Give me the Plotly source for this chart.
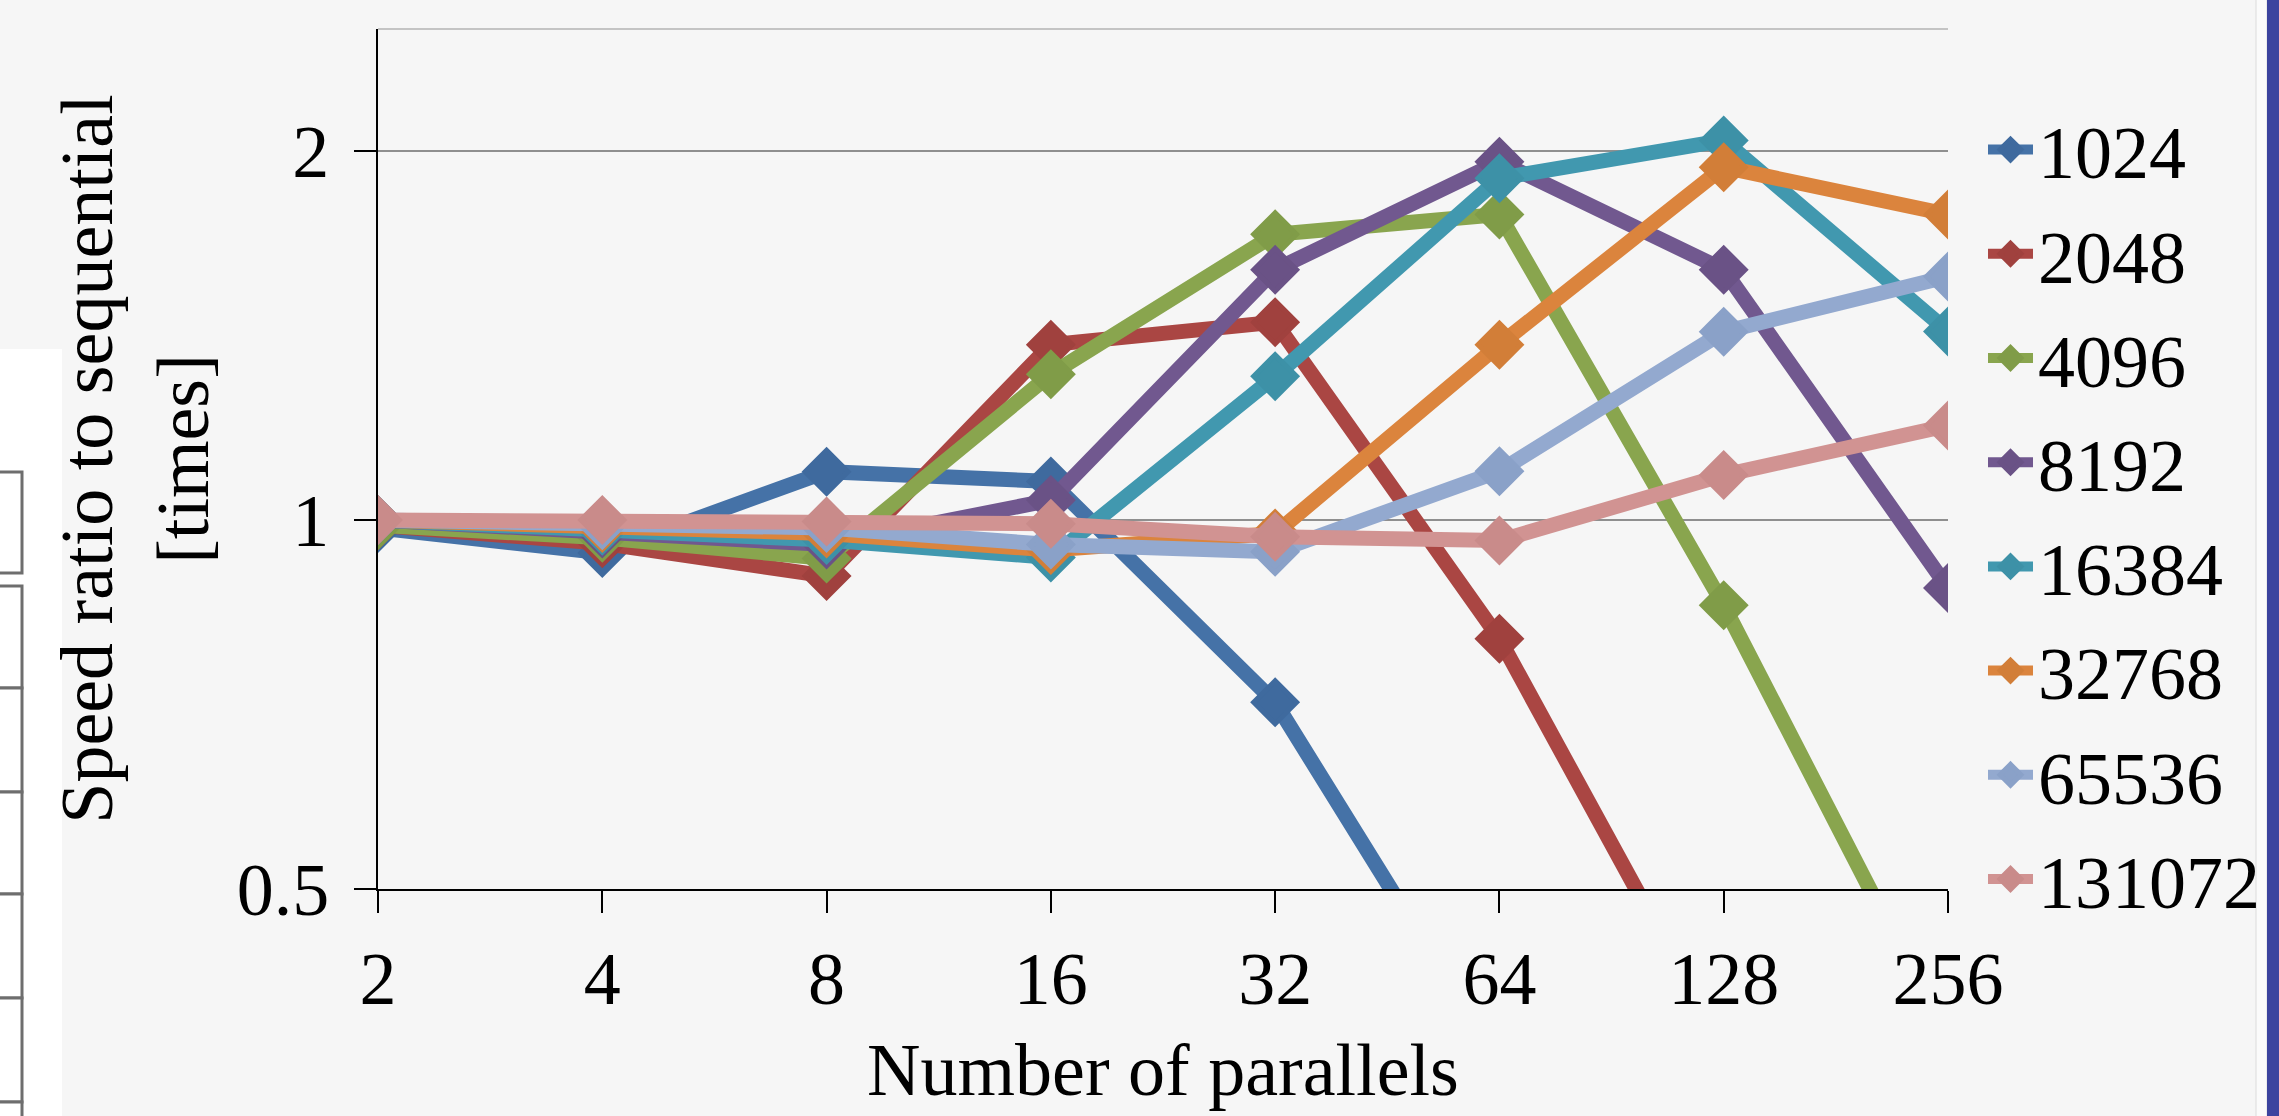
import plotly.graph_objects as go

# ---------------- data ----------------
parallels = ["2", "4", "8", "16", "32", "64", "128", "256"]
series_names = ["1024", "2048", "4096", "8192", "16384", "32768", "65536", "131072"]

s1024 = [0.985, 0.94, 1.095, 1.075, 0.71, 0.36, None, None]
s2048 = [0.99, 0.957, 0.90, 1.39, 1.45, 0.80, 0.37, None]
s4096 = [0.99, 0.967, 0.93, 1.315, 1.71, 1.775, 0.852, 0.376]
s8192 = [1.0, 0.975, 0.955, 1.038, 1.60, 1.96, 1.60, 0.88]
s16384 = [1.0, 0.98, 0.963, 0.932, 1.31, 1.90, 2.04, 1.425]
s32768 = [1.0, 0.985, 0.975, 0.945, 0.975, 1.39, 1.94, 1.775]
s65536 = [1.0, 0.99, 0.985, 0.955, 0.942, 1.096, 1.424, 1.58]
s131072 = [1.0, 1.0, 0.997, 0.993, 0.969, 0.962, 1.088, 1.194]

all_series = [s1024, s2048, s4096, s8192, s16384, s32768, s65536, s131072]

y_tickvals = [0.5, 1, 2]
y_ticktext = ["0.5", "1", "2"]

# ---------------- style ----------------
line_colors = ["#4572A7", "#AA4643", "#89A54E", "#71588F", "#4198AF", "#DB843D", "#93A9CF", "#D19392"]
marker_colors = ["#3F6A9E", "#A0413E", "#809C48", "#6A5286", "#3D91A7", "#D27E38", "#8AA1C8", "#C98B8A"]

W, H = 2279, 1116
ML, MR, MT, MB = 378, 331, 29, 227
PW, PH = W - ML - MR, H - MT - MB
BG = "#f6f6f6"
FONT = "Liberation Serif"
FS = 74


def px_x(p):
    return (p - ML) / PW


def px_y(p):
    return (H - MB - p) / PH


fig = go.Figure()
for name, vals, lc, mc in zip(series_names, all_series, line_colors, marker_colors):
    fig.add_trace(go.Scatter(
        x=parallels, y=vals, name=name, legendgroup=name,
        mode="lines+markers",
        line=dict(color=lc, width=15),
        marker=dict(symbol="diamond", size=33, color=mc, line=dict(color=mc, width=5)),
        connectgaps=False,
    ))

shapes = []
# top border of plot area (light gray)
shapes.append(dict(type="line", xref="paper", yref="paper", x0=0, x1=1, y0=1, y1=1,
                   line=dict(color="#c4c4c4", width=2), layer="below"))
# screenshot artefacts: white spreadsheet strip on the left with cell borders
shapes.append(dict(type="rect", xref="paper", yref="paper", x0=px_x(-5), x1=px_x(62),
                   y0=px_y(H + 5), y1=px_y(349), fillcolor="white", line=dict(width=0), layer="above"))
for top, bot in [(472, 573), (586, 688), (688, 792), (792, 894), (894, 998), (998, 1102), (1102, 1200)]:
    shapes.append(dict(type="rect", xref="paper", yref="paper", x0=px_x(-20), x1=px_x(22),
                       y0=px_y(bot), y1=px_y(top), fillcolor="white",
                       line=dict(color="#6e6e6e", width=3), layer="above"))
# right edge: light border and blue window bar
shapes.append(dict(type="rect", xref="paper", yref="paper", x0=px_x(2256), x1=px_x(2267),
                   y0=px_y(H + 5), y1=px_y(-5), fillcolor="#fbfbfb",
                   line=dict(color="#dcdcdc", width=1), layer="above"))
shapes.append(dict(type="rect", xref="paper", yref="paper", x0=px_x(2267), x1=px_x(W + 5),
                   y0=px_y(H + 5), y1=px_y(-5), fillcolor="#3c449f", line=dict(width=0), layer="above"))

fig.update_layout(
    width=W, height=H,
    margin=dict(l=ML, r=MR, t=MT, b=MB, autoexpand=False),
    paper_bgcolor=BG, plot_bgcolor=BG,
    font=dict(family=FONT, size=FS, color="black"),
    showlegend=True,
    legend=dict(
        x=px_x(1983), xanchor="left", y=px_y(95), yanchor="top",
        bgcolor="rgba(0,0,0,0)", borderwidth=0,
        font=dict(family=FONT, size=FS, color="black"),
        itemwidth=45, tracegroupgap=5,
    ),
    shapes=shapes,
)

fig.update_xaxes(
    type="category", range=[0, 7],
    showgrid=False, zeroline=False,
    showline=True, linecolor="black", linewidth=2,
    ticks="outside", ticklen=22, tickwidth=2, tickcolor="black",
    tickfont=dict(family=FONT, size=FS, color="black"),
    ticklabelstandoff=2,
    title=dict(text="Number of parallels", font=dict(family=FONT, size=FS, color="black"), standoff=24),
    automargin=False,
)

fig.update_yaxes(
    type="log", range=[-0.30103, 0.4005],
    tickvals=y_tickvals, ticktext=y_ticktext,
    showgrid=True, gridcolor="#8f8f8f", gridwidth=2,
    showline=True, linecolor="black", linewidth=2,
    ticks="outside", ticklen=22, tickwidth=2, tickcolor="black",
    tickfont=dict(family=FONT, size=FS, color="black"),
    ticklabelstandoff=10,
    title=dict(text="Speed ratio to sequential<br>[times]",
               font=dict(family=FONT, size=FS, color="black"), standoff=4),
    automargin=False,
)

fig.write_html("out.html", config={"displayModeBar": False},
               post_script="document.body.style.margin='0px';")
